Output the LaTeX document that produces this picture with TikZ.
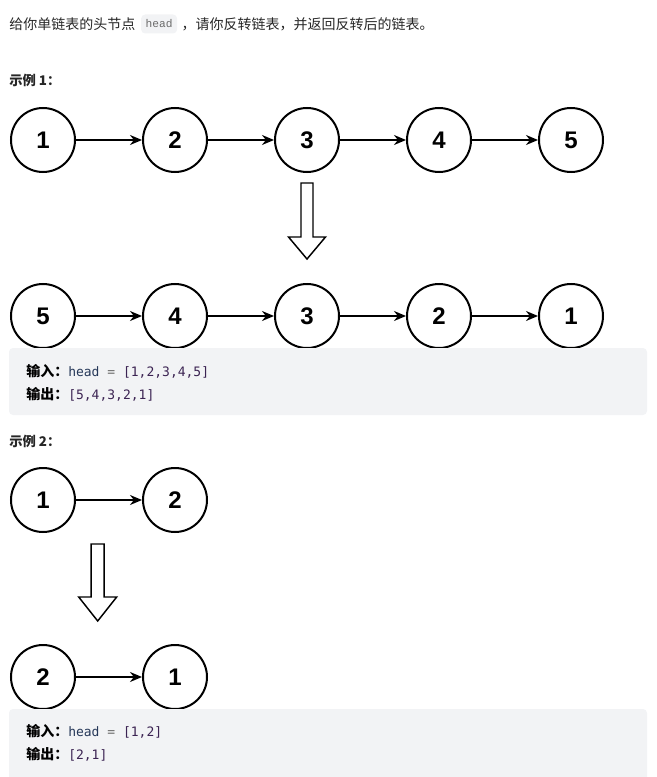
\documentclass[tikz,border=0pt]{standalone}
\usepackage{fontspec}
\setmainfont{Liberation Sans}
\newfontfamily\cjk{Noto Sans CJK SC}
\newfontfamily\mono{DejaVu Sans Mono}
\newfontfamily\inmono{Liberation Mono}
\usetikzlibrary{arrows.meta}
\definecolor{txt}{HTML}{262626}
\definecolor{boxgray}{HTML}{F2F3F5}
\definecolor{kw}{HTML}{263859}
\definecolor{num}{HTML}{3B2352}
\definecolor{eqgray}{HTML}{6B6B6B}

\begin{document}
\begin{tikzpicture}[x=0.75pt, y=-0.75pt, >={Stealth[length=9pt,width=7.5pt]}]
        \tikzset{nd/.style={draw, circle, line width=1.5pt, minimum size=48pt,
                 inner sep=0pt, font=\bfseries\fontsize{18}{18}\selectfont},
                 lnk/.style={->, line width=1.1pt},
                 hollow/.style={draw, line width=1.1pt, fill=white, line join=miter},
                 txtcn/.style={anchor=west, inner sep=0pt, text=txt,
                 font=\cjk\fontsize{10.5}{12}\selectfont},
                 exlbl/.style={anchor=west, inner sep=0pt, text=txt,
                 font=\cjk\bfseries\fontsize{10}{12}\selectfont},
                 iolbl/.style={anchor=west, inner sep=0pt, text=black,
                 font=\fontsize{9.75}{12}\selectfont}}
        \useasboundingbox (0,0) rectangle (656,777);
        %% Enunciado
        \node[txtcn] (intro) at (9,24) {给你单链表的头节点};
        \node[anchor=west, fill=boxgray, rounded corners=3pt, inner xsep=3.4pt,
              inner ysep=0pt, minimum height=14.25pt, text=eqgray,
              font=\inmono\fontsize{8.4}{10}\selectfont]
              (hd) at ([xshift=4pt]intro.east) {head};
        \node[txtcn] (rest) at ([xshift=3pt]hd.east) {，请你反转链表，并返回反转后的链表。};
        %% Ejemplo 1
        \node[exlbl] (ex1) at (9,80) {示例 1：};
        \foreach \v [count=\i] in {1,2,3,4,5}
            \node[nd] (a\i) at ({43+132*(\i-1)},140) {\v};
        \foreach \v [count=\i] in {5,4,3,2,1}
            \node[nd] (b\i) at ({43+132*(\i-1)},316) {\v};
        \foreach \i/\j in {1/2,2/3,3/4,4/5} {
            \draw[lnk] (a\i) -- (a\j);
            \draw[lnk] (b\i) -- (b\j);
        }
        \coordinate (arr1) at (301,183);
        \draw[hollow] (arr1) -- ++(12,0) -- ++(0,54) -- ++(12.5,0) -- ++(-18.5,22)
              -- ++(-18.5,-22) -- ++(12.5,0) -- cycle;
        \fill[boxgray, rounded corners=3pt] (9,348) rectangle (647,415);
        \node[iolbl] (in1) at (26,371) {{\cjk\bfseries\fontsize{10.5}{12}\selectfont 输入：}{\mono
              \textcolor{kw}{head} \textcolor{eqgray}{=} \textcolor{num}{[1,2,3,4,5]}}};
        \node[iolbl] (out1) at (26,394) {{\cjk\bfseries\fontsize{10.5}{12}\selectfont 输出：}{\mono
              \textcolor{num}{[5,4,3,2,1]}}};
        %% Ejemplo 2
        \node[exlbl] (ex2) at (9,441) {示例 2：};
        \node[nd] (c1) at (43,500) {1};
        \node[nd] (c2) at (175,500) {2};
        \draw[lnk] (c1) -- (c2);
        \coordinate (arr2) at (91.2,544);
        \draw[hollow] (arr2) -- ++(13,0) -- ++(0,53) -- ++(12.5,0) -- ++(-19,24)
              -- ++(-19,-24) -- ++(12.5,0) -- cycle;
        \node[nd] (d1) at (43,677) {2};
        \node[nd] (d2) at (175,677) {1};
        \draw[lnk] (d1) -- (d2);
        \fill[boxgray, rounded corners=3pt] (9,709) rectangle (647,790);
        \node[iolbl] (in2) at (26,731) {{\cjk\bfseries\fontsize{10.5}{12}\selectfont 输入：}{\mono
              \textcolor{kw}{head} \textcolor{eqgray}{=} \textcolor{num}{[1,2]}}};
        \node[iolbl] (out2) at (26,754) {{\cjk\bfseries\fontsize{10.5}{12}\selectfont 输出：}{\mono
              \textcolor{num}{[2,1]}}};
\end{tikzpicture}
\end{document}
